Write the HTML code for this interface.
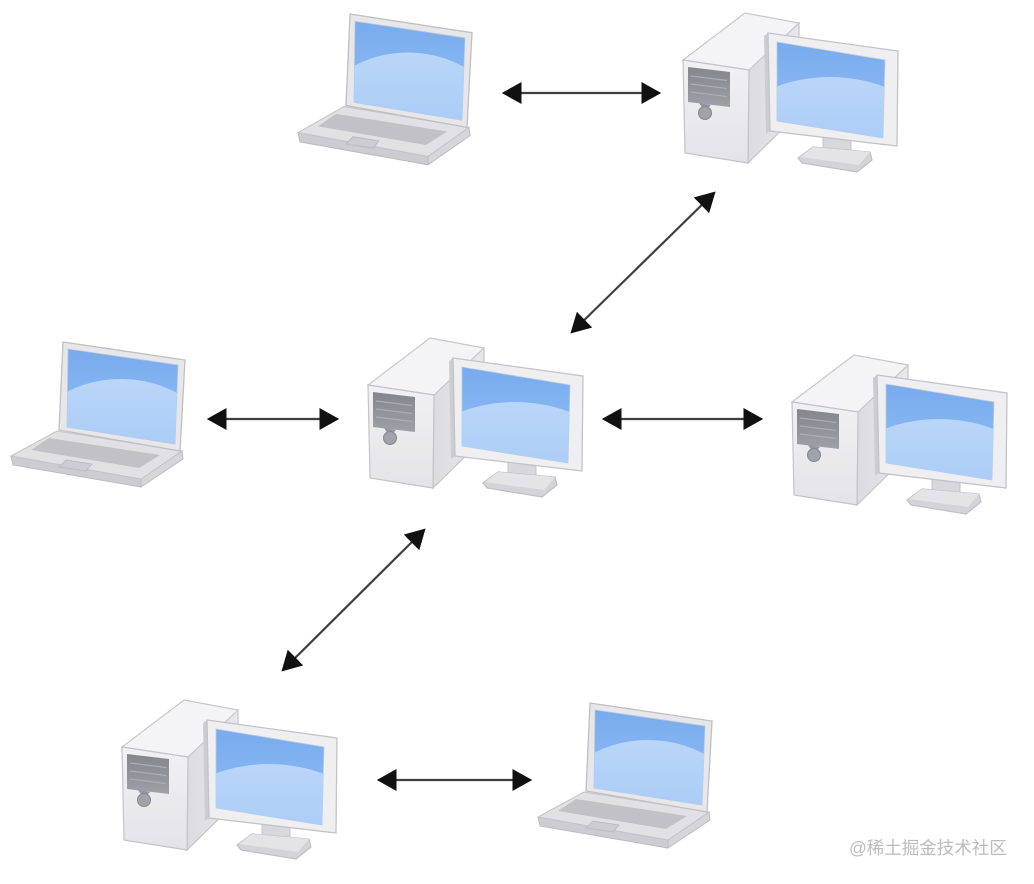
<!DOCTYPE html>
<html><head><meta charset="utf-8"><style>
html,body{margin:0;padding:0;background:#fff;}
body{width:1034px;height:884px;overflow:hidden;position:relative;}
svg{position:absolute;left:0;top:0;}
.wm{position:absolute;left:849px;top:838px;font-family:"Liberation Sans","Noto Sans CJK SC",sans-serif;font-size:17.5px;color:#bcbcbc;white-space:nowrap;line-height:20px;}
</style></head><body>
<svg width="1034" height="884" viewBox="0 0 1034 884" xmlns="http://www.w3.org/2000/svg">
<defs>
 <linearGradient id="scr" x1="0" y1="0" x2="0" y2="1">
  <stop offset="0" stop-color="#78abee"/><stop offset="1" stop-color="#93bff3"/>
 </linearGradient>
 <linearGradient id="hump" x1="0" y1="0" x2="0" y2="1">
  <stop offset="0" stop-color="#b9d6f9"/><stop offset="0.5" stop-color="#a9cbf6"/><stop offset="1" stop-color="#9cc3f4"/>
 </linearGradient>
 <linearGradient id="front" x1="0" y1="0" x2="0" y2="1">
  <stop offset="0" stop-color="#f1f1f3"/><stop offset="1" stop-color="#e4e4e8"/>
 </linearGradient>
 <linearGradient id="side" x1="0" y1="0" x2="1" y2="0">
  <stop offset="0" stop-color="#dcdce0"/><stop offset="1" stop-color="#e8e8eb"/>
 </linearGradient>
 <linearGradient id="panel" x1="0" y1="0" x2="0" y2="1">
  <stop offset="0" stop-color="#83878d"/><stop offset="1" stop-color="#9da1a7"/>
 </linearGradient>
 <clipPath id="pcclip" clipPathUnits="userSpaceOnUse"><polygon points="94,29 202,47 200,125 94,108"/></clipPath>
 <clipPath id="lapclip" clipPathUnits="userSpaceOnUse"><polygon points="57,7 167,23 164,102 56,85"/></clipPath>
 <marker id="ah" markerUnits="userSpaceOnUse" markerWidth="20" markerHeight="22" refX="16" refY="10" orient="auto-start-reverse" viewBox="0 0 18 20">
  <path d="M0,0 L18,10 L0,20 Z" fill="#111"/>
 </marker>

 <g id="pc">
  <polygon points="66,57 116,10 116,100 65,150" fill="url(#side)" stroke="#c6c6ca" stroke-width="1.2"/>
  <polygon points="0,47 62,0 116,10 66,57" fill="#f4f4f6" stroke="#c8c8cc" stroke-width="1.2"/>
  <polygon points="0,47 66,57 65,150 2,140" fill="url(#front)" stroke="#c4c4c8" stroke-width="1.2"/>
  <polygon points="5,54 47,59 47,94 5,89" fill="url(#panel)"/>
  <line x1="8" y1="63" x2="44" y2="67.5" stroke="#aaaeb3" stroke-width="1.2"/>
  <line x1="8" y1="71" x2="44" y2="75.5" stroke="#aaaeb3" stroke-width="1.2"/>
  <line x1="8" y1="79" x2="44" y2="83.5" stroke="#aaaeb3" stroke-width="1.2"/>
  <polygon points="16,90 28,92 24,96 20,96" fill="#9296a0"/>
  <circle cx="22" cy="100" r="6.5" fill="#a0a4aa" stroke="#83878d" stroke-width="1"/>
  <polygon points="140,124 168,128 168,141 140,138" fill="#d8d8dc" stroke="#c4c4c8"/>
  <polygon points="130,134 187,139 189,147 174,159 119,150 115,145" fill="#d4d4d8" stroke="#c0c0c4" stroke-width="1.2"/>
  <polygon points="130,134 187,139 176,152 117,144" fill="#e4e4e7"/>
  <polygon points="81,23 85,20 87,118 83,121" fill="#cdcdd1"/>
  <polygon points="85,20 215,38 214,133 87,118" fill="#efeff1" stroke="#c4c4c8" stroke-width="1.3"/>
  <polygon points="94,29 202,47 200,125 94,108" fill="url(#scr)" stroke="#bccbe0" stroke-width="0.8"/>
  <ellipse cx="147" cy="140" rx="110" ry="76" fill="url(#hump)" clip-path="url(#pcclip)"/>
 </g>

 <g id="lap">
  <polygon points="0,114 130,137 130,145 2,123" fill="#cdcdd1" stroke="#bcbcc0"/>
  <polygon points="130,137 171,109 172,117 130,145" fill="#d6d6da" stroke="#bcbcc0"/>
  <polygon points="0,114 46,89 171,109 130,137" fill="#e1e1e4" stroke="#c4c4c8"/>
  <polygon points="38,96 149,113 128,126 20,108" fill="#c2c2c6"/>
  <polygon points="55,118 81,122 75,129 48,125" fill="#cdcdd1" stroke="#b8b8bc" stroke-width="0.8"/>
  <polygon points="52,0 174,18 169,109 48,88" fill="#e7e7ea" stroke="#c0c0c4" stroke-width="1.3"/>
  <polygon points="57,7 167,23 164,102 56,85" fill="url(#scr)" stroke="#b8c8dc" stroke-width="0.8"/>
  <ellipse cx="110" cy="110" rx="95" ry="73" fill="url(#hump)" clip-path="url(#lapclip)"/>
 </g>
</defs>

<rect width="1034" height="884" fill="#fff"/>

<use href="#lap" transform="translate(298,14) scale(1,1.04)"/>
<use href="#lap" transform="translate(11,342)"/>
<use href="#lap" transform="translate(538,703)"/>
<use href="#pc" transform="translate(683,13)"/>
<use href="#pc" transform="translate(368,338)"/>
<use href="#pc" transform="translate(792,355)"/>
<use href="#pc" transform="translate(122,700)"/>

<g stroke="#3f3f3f" stroke-width="2.2" fill="none" marker-start="url(#ah)" marker-end="url(#ah)">
 <line x1="504" y1="93" x2="659" y2="93"/>
 <line x1="714" y1="193" x2="572" y2="332"/>
 <line x1="209" y1="419" x2="337" y2="419"/>
 <line x1="604" y1="419" x2="761" y2="419"/>
 <line x1="424" y1="530" x2="283" y2="670"/>
 <line x1="379" y1="780" x2="530" y2="780"/>
</g>
</svg>
<div class="wm">@稀土掘金技术社区</div>
</body></html>
